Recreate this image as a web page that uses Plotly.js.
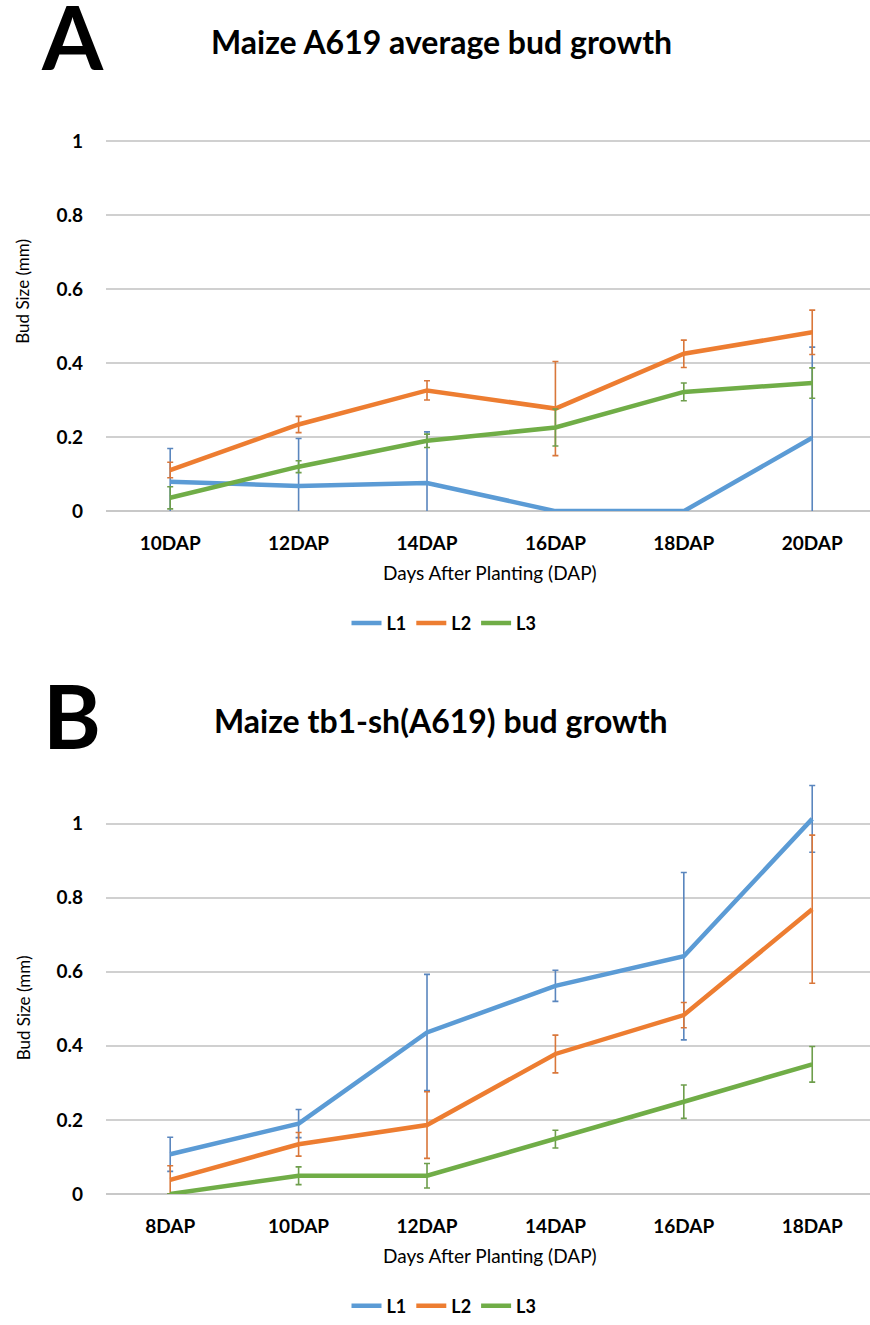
<!DOCTYPE html>
<html>
<head>
<meta charset="utf-8">
<script src="https://cdn.plot.ly/plotly-3.0.1.min.js"></script>
<style>html,body{margin:0;padding:0;background:#fff;}#chart{width:870px;height:1325px;}</style>
</head>
<body>
<div id="chart"></div>
<script>
// Panel A data
const catsA = ["10DAP", "12DAP", "14DAP", "16DAP", "18DAP", "20DAP"];
const a_L1 = [0.079, 0.068, 0.076, 0.0, 0.0, 0.198];
const a_L1_err = [0.09, 0.128, 0.138, 0, 0, 0.245];
const a_L2 = [0.111, 0.234, 0.326, 0.277, 0.425, 0.483];
const a_L2_err = [0.021, 0.022, 0.026, 0.127, 0.037, 0.06];
const a_L3 = [0.036, 0.12, 0.19, 0.226, 0.322, 0.346];
const a_L3_err = [0.03, 0.016, 0.018, 0.05, 0.024, 0.041];

// Panel B data
const catsB = ["8DAP", "10DAP", "12DAP", "14DAP", "16DAP", "18DAP"];
const b_L1 = [0.107, 0.19, 0.436, 0.562, 0.642, 1.013];
const b_L1_err = [0.046, 0.038, 0.157, 0.042, 0.226, 0.09];
const b_L2 = [0.038, 0.134, 0.186, 0.378, 0.483, 0.769];
const b_L2_err = [0.038, 0.032, 0.09, 0.051, 0.034, 0.2];
const b_L3 = [0.0, 0.049, 0.049, 0.148, 0.249, 0.35];
const b_L3_err = [0, 0.024, 0.033, 0.024, 0.045, 0.048];

const seriesNames = ["L1", "L2", "L3"];
const colors = ["#5B9BD5", "#ED7D31", "#70AD47"];
const errColors = ["#5A86BE", "#D9773A", "#6E9E4C"];

const titleA = "Maize A619 average bud growth";
const titleB = "Maize tb1-sh(A619) bud growth";
const xTitle = "Days After Planting (DAP)";
const yTitle = "Bud Size (mm)";

const FONT = "Lato, 'Open Sans', sans-serif";

function mk(cats, ys, errs, i, xa, ya, leg) {
  return {
    type: "scatter", mode: "lines",
    x: cats, y: ys, xaxis: xa, yaxis: ya,
    name: seriesNames[i], legend: leg,
    line: {color: colors[i], width: 4.5},
    error_y: {type: "data", array: errs, visible: true, color: errColors[i], thickness: 1.6, width: 3}
  };
}

const data = [
  mk(catsA, a_L1, a_L1_err, 0, "x", "y", "legend"),
  mk(catsA, a_L2, a_L2_err, 1, "x", "y", "legend"),
  mk(catsA, a_L3, a_L3_err, 2, "x", "y", "legend"),
  mk(catsB, b_L1, b_L1_err, 0, "x2", "y2", "legend2"),
  mk(catsB, b_L2, b_L2_err, 1, "x2", "y2", "legend2"),
  mk(catsB, b_L3, b_L3_err, 2, "x2", "y2", "legend2")
];

function xAxis(anchor) {
  return {
    domain: [0.12184, 1], anchor: anchor, range: [-0.5, 5.45],
    showgrid: false, zeroline: false, showline: false, ticks: "",
    tickfont: {family: FONT, size: 19, color: "#000", weight: "bold"},
    ticklabelstandoff: 19
  };
}
function yAxis(anchor, dom, range) {
  return {
    domain: dom, anchor: anchor, range: range,
    tickvals: [0, 0.2, 0.4, 0.6, 0.8, 1], ticktext: ["0", "0.2", "0.4", "0.6", "0.8", "1"],
    showgrid: true, gridcolor: "#D0D0D0", gridwidth: 1.8,
    zeroline: true, zerolinecolor: "#C8C8C8", zerolinewidth: 2, showline: false, ticks: "",
    tickfont: {family: FONT, size: 19, color: "#000", weight: "bold"},
    ticklabelstandoff: 22
  };
}

const P = (px) => 1 - px / 1325;
const legendFont = {family: FONT, size: 18, color: "#000", weight: "bold"};

const layout = {
  width: 870, height: 1325,
  margin: {l: 0, r: 0, t: 0, b: 0},
  paper_bgcolor: "#fff", plot_bgcolor: "#fff",
  font: {family: FONT, color: "#000"},
  xaxis: xAxis("y"),
  yaxis: yAxis("x", [0.61132, 0.89849], [0, 1.02]),
  xaxis2: xAxis("y2"),
  yaxis2: yAxis("x2", [0.09208, 0.40740], [0, 1.12]),
  legend: {orientation: "h", x: 444/870, xanchor: "center", y: P(628), yanchor: "middle",
           font: legendFont, itemwidth: 30, tracegroupgap: 0},
  legend2: {orientation: "h", x: 444/870, xanchor: "center", y: P(1316), yanchor: "middle",
           font: legendFont, itemwidth: 30, tracegroupgap: 0},
  annotations: [
    {text: "A", xref: "paper", yref: "paper", x: 72/870, y: P(36), xanchor: "center", yanchor: "middle",
     showarrow: false, font: {family: FONT, size: 88, color: "#000", weight: "bold"}},
    {text: "B", xref: "paper", yref: "paper", x: 72/870, y: P(720), xanchor: "center", yanchor: "middle",
     showarrow: false, font: {family: FONT, size: 88, color: "#000", weight: "bold"}},
    {text: titleA, xref: "paper", yref: "paper", x: 441/870, y: P(42),
     xanchor: "center", yanchor: "middle", showarrow: false, font: {family: FONT, size: 32, color: "#000", weight: "bold"}},
    {text: titleB, xref: "paper", yref: "paper", x: 441/870, y: P(726),
     xanchor: "center", yanchor: "middle", showarrow: false, font: {family: FONT, size: 32, color: "#000", weight: "bold"}},
    {text: xTitle, xref: "paper", yref: "paper", x: 490/870, y: P(577),
     xanchor: "center", yanchor: "middle", showarrow: false, font: {family: FONT, size: 19, color: "#000"}},
    {text: xTitle, xref: "paper", yref: "paper", x: 490/870, y: P(1265),
     xanchor: "center", yanchor: "middle", showarrow: false, font: {family: FONT, size: 19, color: "#000"}},
    {text: yTitle, xref: "paper", yref: "paper", x: 23/870, y: P(294), textangle: -90,
     xanchor: "center", yanchor: "middle", showarrow: false, font: {family: FONT, size: 17, color: "#000"}},
    {text: yTitle, xref: "paper", yref: "paper", x: 23/870, y: P(1016), textangle: -90,
     xanchor: "center", yanchor: "middle", showarrow: false, font: {family: FONT, size: 17, color: "#000"}}
  ]
};

Plotly.newPlot("chart", data, layout, {displayModeBar: false, staticPlot: true});
</script>
</body>
</html>
